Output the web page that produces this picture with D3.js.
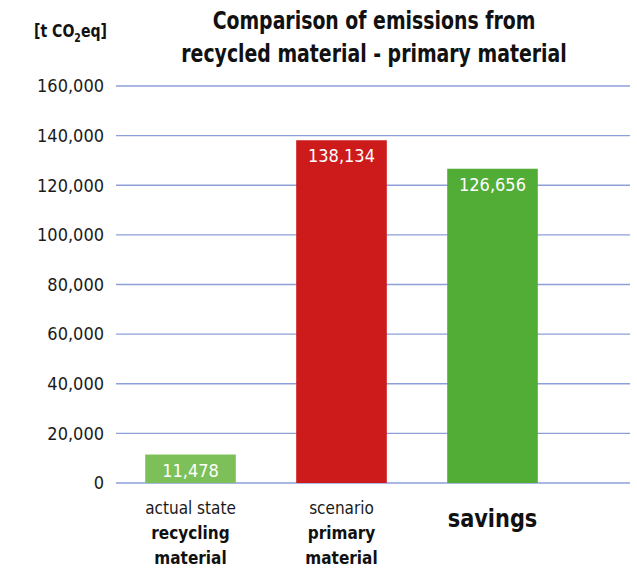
<!DOCTYPE html>
<html>
<head>
<meta charset="utf-8">
<script src="https://cdn.jsdelivr.net/npm/d3@7"></script>
<style>
  html, body { margin: 0; padding: 0; background: #fff; }
  svg { display: block; font-family: "DejaVu Sans Condensed", "Liberation Sans", "Roboto", sans-serif; }
</style>
</head>
<body>
<svg id="chart" width="637" height="568"></svg>
<script>
// Emissions comparison (t CO2eq)
const categories = ["actual", "scenario", "savings"];
const values = [11478, 138134, 126656];
const barColors = ["#7dbf58", "#cd1a1b", "#51ad36"];
const labelLight = ["actual state", "scenario", ""];
const labelBold = [["recycling", "material"], ["primary", "material"], []];
const bigLabel = ["", "", "savings"];
const yTicks = [0, 20000, 40000, 60000, 80000, 100000, 120000, 140000, 160000];

const svg = d3.select("#chart");
const gridLeft = 116, gridRight = 630;

const y = d3.scaleLinear().domain([0, 160000]).range([483, 86]);
const x = d3.scaleBand().domain(categories).range([115, 568]).paddingInner(0.4).paddingOuter(0.2);
const fmt = d3.format(",");

// Horizontally condensed text placed at (px, py)
function narrowText(parent, px, py, sx) {
  return parent.append("g")
    .attr("transform", `translate(${px},${py}) scale(${sx},1)`)
    .append("text").attr("x", 0).attr("y", 0);
}

// Gridlines
svg.append("g").selectAll("line").data(yTicks).join("line")
  .attr("x1", gridLeft).attr("x2", gridRight)
  .attr("y1", d => y(d)).attr("y2", d => y(d))
  .attr("stroke", "#8e9fd8").attr("stroke-width", 1.3);

// Y tick labels
const yAxis = d3.axisLeft(y).tickValues(yTicks).tickFormat(fmt).tickSize(0).tickPadding(0);
const ya = svg.append("g").attr("transform", "translate(104,0)").call(yAxis);
ya.select(".domain").remove();
ya.selectAll("text").attr("font-size", 18).attr("fill", "#1a1a1a")
  .attr("font-family", "\"DejaVu Sans Condensed\", sans-serif");

// Bars
svg.append("g").selectAll("rect").data(values).join("rect")
  .attr("x", (d, i) => x(categories[i]))
  .attr("width", x.bandwidth())
  .attr("y", d => y(d))
  .attr("height", d => y(0) - y(d))
  .attr("fill", (d, i) => barColors[i]);

// Value labels inside bars
svg.append("g").selectAll("text").data(values).join("text")
  .attr("x", (d, i) => x(categories[i]) + x.bandwidth() / 2)
  .attr("y", d => y(d) + 22)
  .attr("text-anchor", "middle")
  .attr("fill", "#fff")
  .attr("font-size", 18)
  .text(d => fmt(d));

// Category labels
const cat = svg.append("g");
categories.forEach((c, i) => {
  const cx = x(c) + x.bandwidth() / 2;
  if (labelLight[i]) {
    cat.append("text").attr("x", cx).attr("y", 514).attr("text-anchor", "middle")
      .attr("font-size", 17).attr("fill", "#1a1a1a").text(labelLight[i]);
  }
  labelBold[i].forEach((t, j) => {
    cat.append("text").attr("x", cx).attr("y", 539 + j * 25).attr("text-anchor", "middle")
      .attr("font-size", 17).attr("font-weight", "bold").attr("fill", "#111").text(t);
  });
  if (bigLabel[i]) {
    narrowText(cat, cx, 527, 0.93).attr("text-anchor", "middle")
      .attr("font-size", 25).attr("font-weight", "bold").attr("fill", "#111").text(bigLabel[i]);
  }
});

// Title
const tg = svg.append("g").attr("transform", "translate(374,0) scale(0.875,1)");
const title = tg.append("text").attr("text-anchor", "middle").attr("font-weight", "bold")
  .attr("font-size", 24).attr("fill", "#111");
title.append("tspan").attr("x", 0).attr("y", 29).text("Comparison of emissions from");
title.append("tspan").attr("x", 0).attr("y", 62).text("recycled material - primary material");

// Unit label
const unit = narrowText(svg, 34, 37, 0.87).attr("font-weight", "bold")
  .attr("font-size", 18).attr("fill", "#111");
unit.append("tspan").text("[t CO");
unit.append("tspan").attr("font-size", 12).attr("dy", 5).text("2");
unit.append("tspan").attr("dy", -5).text("eq]");
</script>
</body>
</html>
